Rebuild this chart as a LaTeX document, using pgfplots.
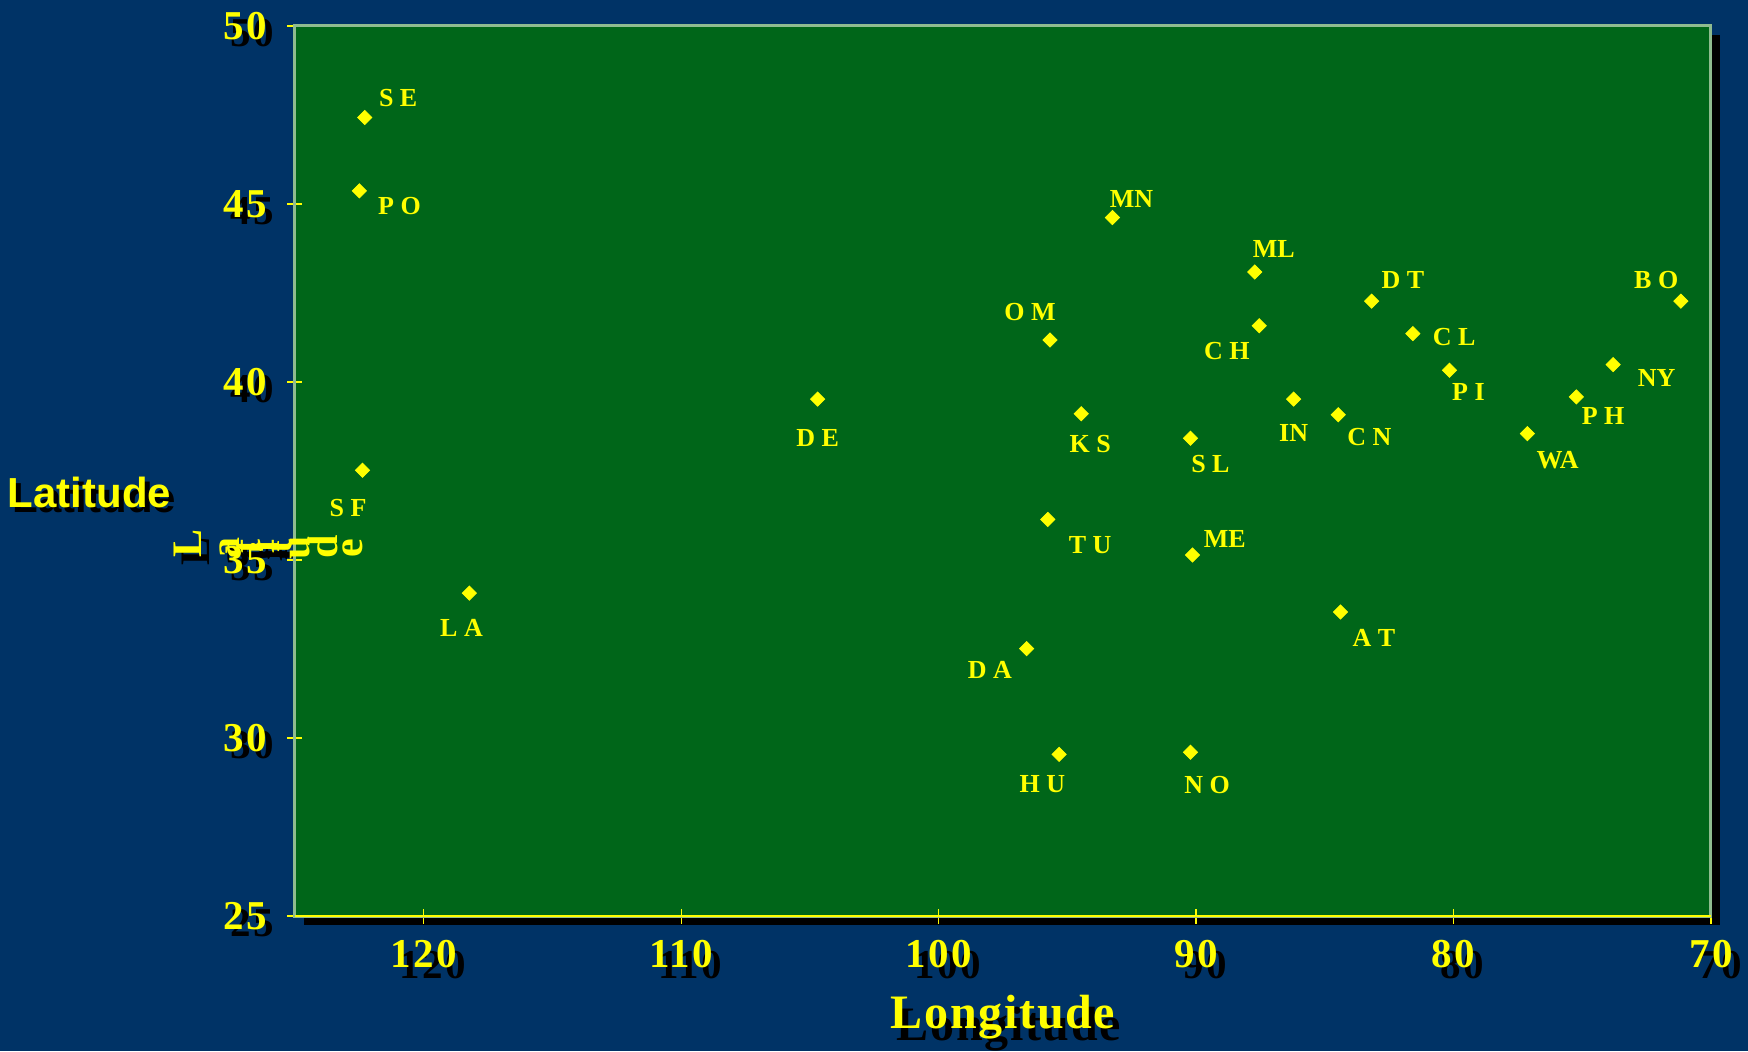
\documentclass[border=0pt]{standalone}
\usepackage{pgfplots}
\usepackage{pgfplotstable}
\pgfplotsset{compat=1.18}
\usepackage{fontspec}
\setmainfont{Liberation Serif}
\newfontfamily\arialf{Liberation Sans}
\newfontfamily\tickf[LetterSpace=6]{Liberation Serif}
\newfontfamily\lonf[LetterSpace=3.5]{Liberation Serif}
\definecolor{bgblue}{RGB}{0,51,102}
\definecolor{plotgreen}{RGB}{0,102,25}
\definecolor{framegreen}{RGB}{143,188,143}
\definecolor{ylw}{RGB}{255,255,0}
\newcommand{\sh}[3]{\makebox[0pt][l]{\hspace*{#1}\raisebox{#2}[0pt][0pt]{\color{black}#3}}{\color{ylw}#3}}
\newcommand{\tl}[1]{\sh{3.5pt}{-3.5pt}{\tickf\bfseries\fontsize{20.5}{24}\selectfont #1}}
\newcommand{\xtl}[1]{\sh{4.5pt}{-5.5pt}{\tickf\bfseries\fontsize{20.5}{24}\selectfont #1}}

\pgfplotstableread[col sep=comma]{
x,y,dx,dy,lab
122.29,47.43,16.7,9.5,S E
122.50,45.37,20.1,-7.8,P O
122.38,37.52,-7.2,-19.0,S F
118.23,34.07,-3.9,-17.3,L A
104.70,39.52,0,-19.5,D E
95.67,41.18,-10.0,13.9,O M
94.46,39.11,4.5,-15.1,K S
95.76,36.14,21.2,-12.8,T U
96.58,32.51,-18.4,-10.6,D A
95.32,29.54,-8.4,-15.1,H U
93.25,44.62,9.5,9.5,MN
87.72,43.09,9.5,11.7,ML
87.55,41.58,-16.2,-12.8,C H
90.22,38.42,10.0,-12.8,S L
90.14,35.14,16.2,7.8,ME
90.22,29.60,8.4,-16.2,N O
86.21,39.52,0,-16.7,IN
84.48,39.08,15.6,-11.1,C N
84.39,33.54,16.7,-12.8,A T
83.18,42.27,15.6,10.6,D T
81.58,41.36,20.6,-1.7,C L
80.16,40.33,9.5,-11.1,P I
77.13,38.55,15.1,-13.4,WA
75.23,39.58,13.4,-9.5,P H
73.80,40.49,21.7,-6.7,NY
71.17,42.27,-12.3,10.6,B O
}\cities

\begin{document}
\begin{tikzpicture}
\useasboundingbox (0,0) rectangle (874pt,525.5pt);
\fill[bgblue] (0,0) rectangle (874pt,525.5pt);
% drop shadow of plot area
\fill[black] (152pt,63pt) rectangle (860pt,508pt);
% garbled rotated label (shadow)
\begin{scope}[every node/.style={rotate=90, inner sep=0pt, font=\bfseries\fontsize{21}{25}\selectfont}]
\foreach \c/\px/\py in {L/187.5/543.5, a/230/548, t/249/547, i/265/547, t/280/547, u/300/548, d/323.5/547, e/352.5/548}{
  \node[text=black] at ({\px*0.5pt+4pt},{(1051-\py)*0.5pt-4pt}) {\c};
}
\end{scope}
\begin{axis}[
  at={(147.5pt,67.5pt)}, anchor=south west,
  scale only axis, width=708pt, height=445pt,
  xmin=70, xmax=125, ymin=25, ymax=50,
  x dir=reverse,
  axis background/.style={fill=plotgreen},
  axis line style={draw=framegreen, line width=1.5pt},
  xtick={70,80,90,100,110,120},
  xticklabels={\xtl{70},\xtl{80},\xtl{90},\xtl{100},\xtl{110},\xtl{120}},
  ytick={25,30,35,40,45,50},
  yticklabels={\tl{25},\tl{30},\tl{35},\tl{40},\tl{45},\tl{50}},
  tick align=center, major tick length=7.5pt,
  tick style={ylw, line width=0.6pt},
  xtick pos=bottom, ytick pos=left,
  xticklabel style={anchor=north, inner sep=0pt, yshift=-8.2pt},
  yticklabel style={anchor=east, inner sep=0pt, xshift=-10pt},
  xlabel={\sh{3pt}{-6pt}{\lonf\bfseries\fontsize{24}{28}\selectfont Longitude}},
  ylabel={\sh{2.5pt}{-2.5pt}{\arialf\bfseries\fontsize{21}{25}\selectfont Latitude}},
  every axis x label/.style={at={(axis description cs:0.5,0)}, anchor=center, yshift=-50.5pt},
  every axis y label/.style={at={(axis description cs:0,0.476)}, anchor=center, xshift=-102.75pt},
  clip=false,
]
\addplot[only marks, mark=square*, mark size=2.5pt,
  mark options={rotate=45, draw=ylw, fill=ylw},
  point meta=explicit symbolic,
  nodes near coords,
  visualization depends on={\thisrow{dx}\as\dx},
  visualization depends on={\thisrow{dy}\as\dy},
  every node near coord/.append style={anchor=center, inner sep=0pt, xshift=\dx pt, yshift=\dy pt, text=ylw, font=\bfseries\fontsize{13}{15}\selectfont},
] table[x=x, y=y, meta=lab]{\cities};
\draw[ylw, line width=1pt] (rel axis cs:0,0) -- (rel axis cs:1,0);
\end{axis}
% garbled rotated label (yellow)
\begin{scope}[every node/.style={rotate=90, inner sep=0pt, font=\bfseries\fontsize{21}{25}\selectfont}]
\foreach \c/\px/\py in {L/187.5/543.5, a/230/548, t/249/547, i/265/547, t/280/547, u/300/548, d/323.5/547, e/352.5/548}{
  \node[text=ylw] at ({\px*0.5pt},{(1051-\py)*0.5pt}) {\c};
}
\end{scope}
\end{tikzpicture}
\end{document}
